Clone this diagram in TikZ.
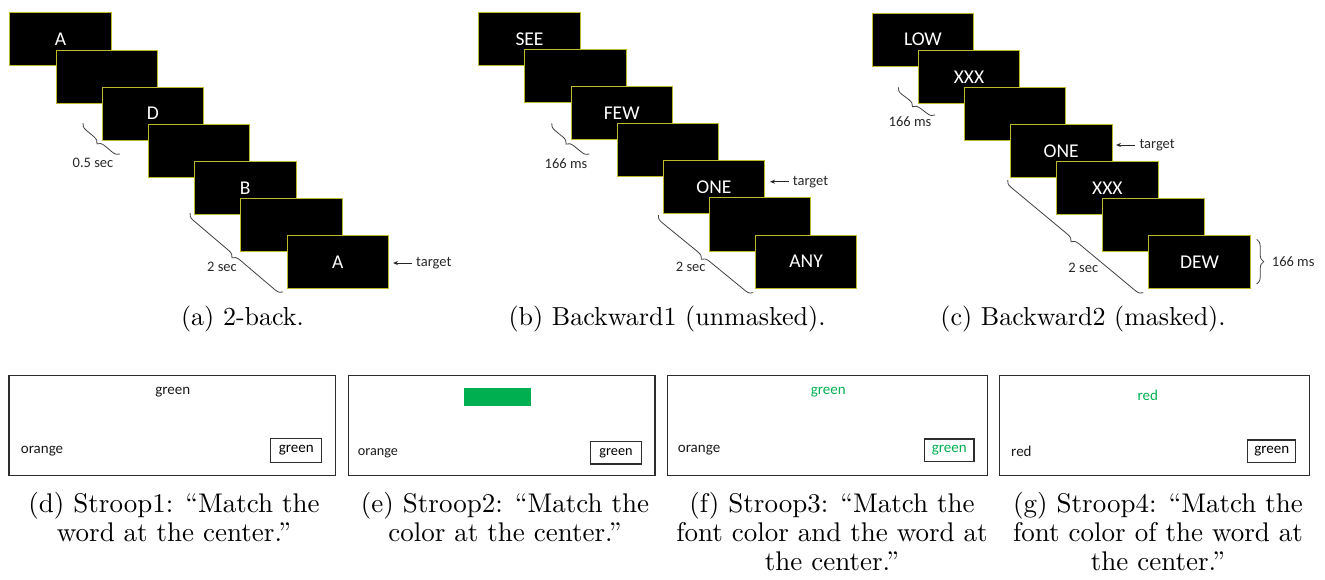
\documentclass[tikz,border=0pt]{standalone}
\usepackage{fontspec}
\newfontfamily\calfont{Carlito}
\usetikzlibrary{decorations.pathreplacing,arrows.meta}
\definecolor{scrb}{RGB}{190,185,40}
\definecolor{offgreen}{RGB}{0,176,80}
\definecolor{framec}{RGB}{45,45,45}
\definecolor{lblc}{RGB}{40,40,40}
\begin{document}
\begin{tikzpicture}[x=1pt,y=-1pt,
  scr/.style={draw=scrb, line width=0.9pt, fill=black, text=white, minimum width=101.5pt, minimum height=53pt, inner sep=0pt, anchor=north west, font=\calfont\fontsize{19.5}{22}\selectfont},
  lbl/.style={inner sep=0pt, text=lblc, font=\calfont\fontsize{14.5}{17}\selectfont},
  brc/.style={decorate, decoration={brace, amplitude=7pt}, line width=0.8pt, draw=black!75},
  arr/.style={-{Stealth[length=5pt,width=4pt]}, line width=0.8pt, draw=black!85},
  captop/.style={inner sep=0pt, scale=2.6, font=\fontsize{10}{11.5}\selectfont, align=center},
  capbot/.style={inner sep=0pt, scale=2.7, font=\fontsize{10}{10.8}\selectfont, align=center},
  sbox/.style={draw=framec, line width=1.3pt, inner sep=0pt, anchor=north west, minimum height=100pt},
  smallbox/.style={draw=framec, line width=1.2pt, inner sep=0pt, font=\calfont\fontsize{15}{18}\selectfont},
  st/.style={inner sep=0pt, text=black!90, font=\calfont\fontsize{15}{18}\selectfont}]
\useasboundingbox (0,0) rectangle (1325,580);

% ---------- (a) 2-back ----------
\foreach \t [count=\i from 0] in {A,{},D,{},B,{},A} {
  \node[scr] (a\i) at ({9.3+\i*46.2},{12.5+\i*37.1}) {\t};
}
\coordinate (ab1s) at (83,123);  \coordinate (ab1e) at (120,154);
\draw[brc] (ab1e) -- (ab1s);
\node[lbl] (al1) at (93,163) {0.5 sec};
\coordinate (ab2s) at (190,213); \coordinate (ab2e) at (283,292);
\draw[brc] (ab2e) -- (ab2s);
\node[lbl] (al2) at (222,267) {2 sec};
\node[lbl, anchor=west] (at) at (416,263) {target};
\coordinate (atip) at (393,263);
\draw[arr] ([xshift=-4pt]at.west) -- (atip);
\node[captop, anchor=base] (capa) at (242.5,325) {(a) 2-back.};

% ---------- (b) Backward1 ----------
\foreach \t [count=\i from 0] in {SEE,{},FEW,{},ONE,{},ANY} {
  \node[scr] (b\i) at ({478.3+\i*46.1},{12+\i*37.1}) {\t};
}
\coordinate (bb1s) at (551.7,123.3); \coordinate (bb1e) at (589.3,154);
\draw[brc] (bb1e) -- (bb1s);
\node[lbl] (bl1) at (566,163.3) {166 ms};
\coordinate (bb2s) at (658.3,215); \coordinate (bb2e) at (753.3,292.7);
\draw[brc] (bb2e) -- (bb2s);
\node[lbl] (bl2) at (690.7,266.7) {2 sec};
\node[lbl, anchor=west] (bt) at (792.7,181.7) {target};
\coordinate (btip) at (770,181.7);
\draw[arr] ([xshift=-4pt]bt.west) -- (btip);
\node[captop, anchor=base] (capb) at (667,325) {(b) Backward1 (unmasked).};

% ---------- (c) Backward2 ----------
\foreach \t [count=\i from 0] in {LOW,XXX,{},ONE,XXX,{},DEW} {
  \node[scr] (c\i) at ({871.7+\i*46.1},{12.7+\i*37.1}) {\t};
}
\coordinate (cb1s) at (898.3,87.3); \coordinate (cb1e) at (935,115);
\draw[brc] (cb1e) -- (cb1s);
\node[lbl] (cl1) at (910,121.7) {166 ms};
\coordinate (cb2s) at (1007.7,180); \coordinate (cb2e) at (1143.3,292.7);
\draw[brc] (cb2e) -- (cb2s);
\node[lbl] (cl2) at (1083.3,268.3) {2 sec};
\coordinate (cb3s) at (1256.7,239.3); \coordinate (cb3e) at (1256.7,284);
\draw[brc] (cb3s) -- (cb3e);
\node[lbl, anchor=west] (cl3) at (1271.7,261.7) {166 ms};
\node[lbl, anchor=west] (ct) at (1139.3,145) {target};
\coordinate (ctip) at (1116,145);
\draw[arr] ([xshift=-4pt]ct.west) -- (ctip);
\node[captop, anchor=base] (capc) at (1083,325) {(c) Backward2 (masked).};

% ---------- (d) Stroop1 ----------
\node[sbox, minimum width=326.7pt] (d) at (8.3,375) {};
\node[st] (dw) at (172.7,392.3) {green};
\node[st, anchor=west] (do) at (20.7,451) {orange};
\node[smallbox, minimum width=51pt, minimum height=24pt] (ds) at (296.2,450.3) {green};
\node[capbot, anchor=north] (capd) at (174,491.5) {(d) Stroop1: “Match the\\word at the center.”};

% ---------- (e) Stroop2 ----------
\node[sbox, minimum width=306.6pt] (e) at (347.7,375) {};
\node[fill=offgreen, inner sep=0pt, minimum width=67.4pt, minimum height=18pt, anchor=north west] (er) at (463.3,387.7) {};
\node[st, anchor=west, font=\calfont\fontsize{14.2}{17}\selectfont] (eo) at (357.7,453.3) {orange};
\node[smallbox, minimum width=50.6pt, minimum height=22.3pt, font=\calfont\fontsize{14.2}{17}\selectfont] (es) at (616,452.9) {green};
\node[capbot, anchor=north] (cape) at (505,491.5) {(e) Stroop2: “Match the\\color at the center.”};

% ---------- (f) Stroop3 ----------
\node[sbox, minimum width=320pt] (f) at (666.7,375) {};
\node[st, text=offgreen] (fw) at (828.3,392.3) {green};
\node[st, anchor=west] (fo) at (677.7,450) {orange};
\node[smallbox, minimum width=49.7pt, minimum height=22.7pt, text=offgreen] (fs) at (949.2,450.3) {green};
\node[capbot, anchor=north] (capf) at (832,491.5) {(f) Stroop3: “Match the\\font color and the word at\\the center.”};

% ---------- (g) Stroop4 ----------
\node[sbox, minimum width=310pt] (g) at (999,375) {};
\node[st, text=offgreen] (gw) at (1147.7,395.7) {red};
\node[st, anchor=west] (go) at (1011,451.7) {red};
\node[smallbox, minimum width=48pt, minimum height=22.3pt] (gs) at (1271.7,451.2) {green};
\node[capbot, anchor=north] (capg) at (1158,491.5) {(g) Stroop4: “Match the\\font color of the word at\\the center.”};
\end{tikzpicture}
\end{document}
